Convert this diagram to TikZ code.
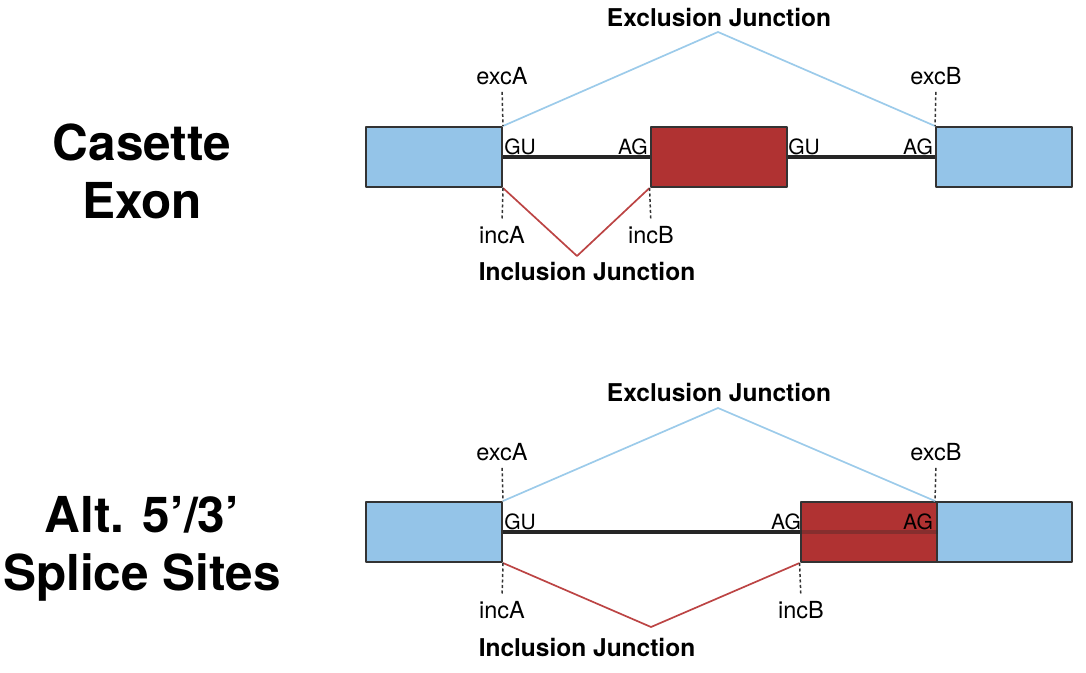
\documentclass[tikz,border=0pt]{standalone}
\usepackage{fontspec}
\setmainfont{TeX Gyre Heros}
\definecolor{exonblue}{HTML}{94C4E8}
\definecolor{exonred}{HTML}{B03232}
\definecolor{excline}{HTML}{9CCBEA}
\definecolor{incline}{HTML}{BC4444}
\definecolor{boxline}{HTML}{333333}
\begin{document}
\begin{tikzpicture}[x=1pt, y=-1pt, line join=round,
  exon/.style={rectangle, draw=boxline, line width=2pt, fill=exonblue,
    minimum width=136pt, minimum height=60pt, inner sep=0pt},
  altexon/.style={exon, fill=exonred},
  intron/.style={line width=4pt, draw=black!85},
  exc/.style={line width=1.7pt, draw=excline},
  inc/.style={line width=1.7pt, draw=incline},
  tick/.style={dash pattern=on 3pt off 2.5pt, line width=1.5pt, draw=black!80},
  site/.style={font=\fontsize{21}{21}\selectfont, inner sep=0pt},
  lbl/.style={font=\fontsize{23.5}{23.5}\selectfont, inner sep=2pt},
  junc/.style={font=\fontsize{24.5}{24.5}\selectfont\bfseries, inner sep=0pt},
  title/.style={font=\fontsize{49.5}{58}\selectfont\bfseries, align=center, inner sep=0pt}]
\useasboundingbox (0,0) rectangle (1086,672);
% row titles
\node[title] (t1) at (142,171) {Casette\\Exon};
\node[title] (t2) at (142,549) {Alt. 5’/3’\\Splice Sites};
% casette exon
\node[exon] (a1) at (434,157) {};
\node[altexon] (a2) at (718.5,157) {};
\node[exon] (a3) at (1004,157) {};
\draw[intron] (a1.east) -- (a2.west);
\draw[intron] (a2.east) -- (a3.west);
\coordinate (aexc) at (718,32);
\coordinate (ainc) at (577,256);
\draw[exc] (a1.north east) -- (aexc) -- (a3.north west);
\draw[inc] (a1.south east) -- (ainc) -- (a2.south west);
\node[junc] (aexcl) at (719,18) {Exclusion Junction};
\node[junc] (aincl) at (587,272) {Inclusion Junction};
\node[lbl] (aexcA) at (502,76) {excA};
\node[lbl] (aexcB) at (936,76) {excB};
\node[lbl] (aincA) at (502,235) {incA};
\node[lbl] (aincB) at (651,235) {incB};
\foreach \lab/\ex in {aexcA/a1.north east, aexcB/a3.north west}
  \draw[tick, shorten <=5pt] (\lab.south) -- (\ex);
\foreach \ex/\lab in {a1.south east/aincA, a2.south west/aincB}
  \draw[tick, shorten >=4pt] (\ex) -- (\lab.north);
\node[site] (agu1) at (520,147) {GU};
\node[site] (aag1) at (633,147) {AG};
\node[site] (agu2) at (804,147) {GU};
\node[site] (aag2) at (918,147) {AG};
% alternative 5'/3' splice sites
\node[exon] (b1) at (434,532) {};
\node[exon] (b3) at (1004,532) {};
\node[altexon] (b2) at (868.5,532) {};
\draw[intron] (b1.east) -- (b2.west);
\draw[intron, opacity=.3] (b2.west) -- (b2.east);
\coordinate (bexc) at (718,408);
\coordinate (binc) at (651,627);
\draw[exc] (b1.north east) -- (bexc) -- (b3.north west);
\draw[inc] (b1.south east) -- (binc) -- (b2.south west);
\node[junc] (bexcl) at (719,393) {Exclusion Junction};
\node[junc] (bincl) at (587,648) {Inclusion Junction};
\node[lbl] (bexcA) at (502,452) {excA};
\node[lbl] (bexcB) at (936,452) {excB};
\node[lbl] (bincA) at (502,610) {incA};
\node[lbl] (bincB) at (801,610) {incB};
\foreach \lab/\ex in {bexcA/b1.north east, bexcB/b3.north west}
  \draw[tick, shorten <=5pt] (\lab.south) -- (\ex);
\foreach \ex/\lab in {b1.south east/bincA, b2.south west/bincB}
  \draw[tick, shorten >=4pt] (\ex) -- (\lab.north);
\node[site] (bgu1) at (520,522) {GU};
\node[site] (bag1) at (786,522) {AG};
\node[site] (bag2) at (918,522) {AG};
\end{tikzpicture}
\end{document}
